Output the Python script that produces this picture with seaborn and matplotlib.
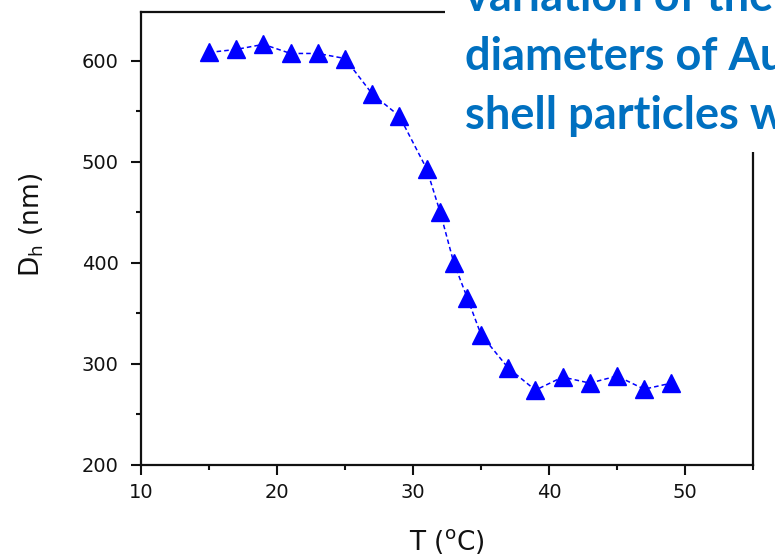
import matplotlib
matplotlib.use("Agg")
import matplotlib.pyplot as plt
from matplotlib.patches import Rectangle
from matplotlib.ticker import MultipleLocator
import pandas as pd
import seaborn as sns

# hydrodynamic diameter vs temperature
temps = [15, 17, 19, 21, 23, 25, 27, 29, 31, 32, 33, 34, 35, 37, 39, 41, 43, 45, 47, 49]
diam = [608, 611, 616, 607, 607, 602, 567, 545, 493, 450, 400, 365, 329, 296,
        274, 287, 281, 288, 275, 281]
title_lines = ["variation of the", "diameters of Au", "shell particles w"]

df = pd.DataFrame({"T": temps, "Dh": diam})

sns.set_style("ticks")
plt.rcParams["font.family"] = ["DejaVu Sans"]
plt.rcParams["mathtext.default"] = "regular"

fig = plt.figure(figsize=(7.75, 5.6), dpi=100)
ax = fig.add_axes([141 / 775, 95 / 560, 612 / 775, 453 / 560])

sns.lineplot(data=df, x="T", y="Dh", ax=ax, color="#0000ff", estimator=None,
             marker="^", markersize=13, markeredgewidth=1, markeredgecolor="#0000ff",
             linewidth=1.1, linestyle=(0, (3, 2)))

ax.set_xlim(10, 55)
ax.set_ylim(200, 648)
ax.xaxis.set_major_locator(MultipleLocator(10))
ax.xaxis.set_minor_locator(MultipleLocator(5))
ax.yaxis.set_major_locator(MultipleLocator(100))
ax.yaxis.set_minor_locator(MultipleLocator(50))
ax.set_xticks([10, 20, 30, 40, 50])

for s in ax.spines.values():
    s.set_linewidth(1.6)
    s.set_color("#111111")
ax.tick_params(which="major", direction="out", length=7, width=1.5, labelsize=14, colors="#111111")
ax.tick_params(axis="x", which="major", pad=6)
ax.tick_params(axis="y", which="major", pad=9)
ax.tick_params(which="minor", direction="out", length=3.5, width=1.5, colors="#111111")

ax.set_xlabel(r"T ($^{o}$C)", fontsize=19, color="#111111")
ax.set_ylabel(r"D$_{h}$ (nm)", fontsize=19, color="#111111")
ax.xaxis.set_label_coords(0.5, -0.137)
ax.xaxis.label.set_va("top")
ax.yaxis.set_label_coords(-0.155, 0.53)

# white box with the slide heading over the top right corner
fig.add_artist(Rectangle((445 / 775, 408 / 560), 1, 1, transform=fig.transFigure,
                         facecolor="white", edgecolor="none", zorder=5))
for i, line in enumerate(title_lines):
    fig.text(465 / 775, (560 - 11 - 59 * i) / 560, line, fontsize=32.5, fontweight="bold",
             family=["Lato", "DejaVu Sans"], color="#0070c0", va="baseline", ha="left", zorder=6)

fig.savefig("out.png", dpi=100)
